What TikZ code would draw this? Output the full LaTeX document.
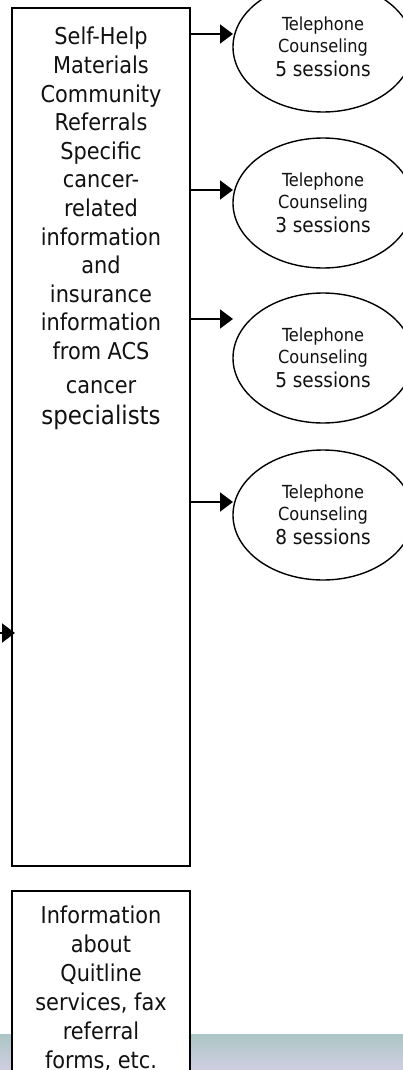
\documentclass[tikz,border=0pt]{standalone}
\usepackage{fontspec}
\setmainfont{DejaVu Sans Condensed}
\usepackage{tikz}
\usepackage{xcolor}
\usetikzlibrary{shapes.geometric,arrows.meta}
\newlength{\boxwidth}
\newlength{\mainheight}
\newlength{\infoheight}
\setlength{\boxwidth}{178pt}
\setlength{\mainheight}{858pt}
\setlength{\infoheight}{196pt}
\definecolor{background}{RGB}{255, 255, 255}
\definecolor{linecolor}{HTML}{000000}
\definecolor{mainfont}{HTML}{111111}
\definecolor{bandtop}{HTML}{ABC5C4}
\definecolor{bandbottom}{HTML}{D0CEE2}
\tikzset{
	textbox/.style={draw=linecolor,line width=2pt,fill=background,minimum width=\boxwidth,inner sep=0pt,text=mainfont,align=center},
	session/.style={draw=linecolor,line width=1.4pt,ellipse,minimum width=180pt,minimum height=130pt,inner sep=0pt,text=mainfont,align=center,font=\fontsize{18}{22}\selectfont},
	arr/.style={draw=linecolor,line width=2pt,-{Triangle[length=13pt,width=19pt]}}
}

\begin{document}
\begin{tikzpicture}[x=1pt,y=-1pt]
				% Boundary box
				\fill[background] (0,0) rectangle (403,1070);
				\clip (0,0) rectangle (403,1070);

				% Band along the bottom edge
				\shade[top color=bandtop,bottom color=bandbottom] (0,1034) rectangle (403,1070);

				% Boxes
				% Main box with the services
				\node[textbox,minimum height=\mainheight] (mainbox) at (101,437) {};
				\node[anchor=north,align=center,text=mainfont,inner sep=0pt,font=\fontsize{23.2}{28.6}\selectfont] (maintext) at (101,27)
					{Self-Help\\Materials\\Community\\Referrals\\Specific\\cancer-\\related\\information\\and\\insurance\\information\\from ACS\\[5pt]cancer\\[3pt]{\fontsize{25.5}{30}\selectfont specialists}};

				% Box below with the quitline information
				\node[textbox,minimum height=\infoheight,font=\fontsize{23.2}{29}\selectfont] (infobox) at (101,989)
					{Information\\about\\Quitline\\services, fax\\referral\\forms, etc.};

				% Counseling ellipses
				\node[session] (tel1) at (323,47) {Telephone\\Counseling\\[2pt]{\fontsize{20.5}{24}\selectfont 5 sessions}};
				\node[session] (tel2) at (323,203) {Telephone\\Counseling\\[2pt]{\fontsize{20.5}{24}\selectfont 3 sessions}};
				\node[session] (tel3) at (323,358) {Telephone\\Counseling\\[2pt]{\fontsize{20.5}{24}\selectfont 5 sessions}};
				\node[session] (tel4) at (323,515) {Telephone\\Counseling\\[2pt]{\fontsize{20.5}{24}\selectfont 8 sessions}};

				% Arrows
				% Arrow tips next to the ellipses
				\coordinate (tip1) at (233,34);
				\coordinate (tip2) at (233,190);
				\coordinate (tip3) at (233,319);
				\coordinate (tip4) at (233,502);
				\draw[arr] (mainbox.east |- tip1) -- (tip1);
				\draw[arr] (mainbox.east |- tip2) -- (tip2);
				\draw[arr] (mainbox.east |- tip3) -- (tip3);
				\draw[arr] (mainbox.east |- tip4) -- (tip4);

				% Arrow coming in from the left
				\coordinate (feed) at (0,633);
				\draw[arr,shorten >=-4pt] (feed) -- (mainbox.west |- feed);
			\end{tikzpicture}
\end{document}
